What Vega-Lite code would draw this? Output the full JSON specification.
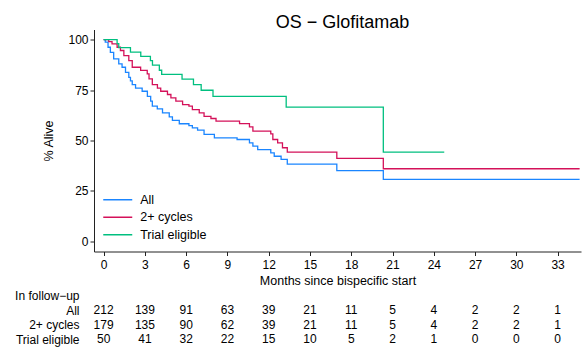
{
  "$schema": "https://vega.github.io/schema/vega-lite/v6.json",
  "padding": {"left": 14, "top": 13.5, "right": 5, "bottom": 0},
  "spacing": 2,
  "config": {
    "view": {"stroke": null},
    "font": "Liberation Sans",
    "axis": {"grid": false, "domainColor": "#222", "tickColor": "#222", "labelColor": "#000", "titleColor": "#000", "labelFont": "Liberation Sans", "titleFont": "Liberation Sans", "titleFontWeight": "normal", "labelFontSize": 12, "titleFontSize": 12.5, "tickSize": 4},
    "legend": {"labelFont": "Liberation Sans"},
    "title": {"font": "Liberation Sans"}
  },
  "vconcat": [
    {
      "width": 487,
      "height": 222,
      "title": {"text": "OS − Glofitamab", "fontSize": 18, "fontWeight": "normal", "color": "#000", "frame": "group", "anchor": "middle", "dx": 5, "offset": -2.5},
      "data": {"values": [
        {"group": "All", "t": 0, "s": 100}, {"group": "All", "t": 0.12, "s": 98.7}, {"group": "All", "t": 0.32, "s": 96.2}, {"group": "All", "t": 0.49, "s": 93.7}, {"group": "All", "t": 0.73, "s": 90.4}, {"group": "All", "t": 1.1, "s": 88}, {"group": "All", "t": 1.34, "s": 86.3}, {"group": "All", "t": 1.59, "s": 83.8}, {"group": "All", "t": 1.83, "s": 81.3}, {"group": "All", "t": 1.95, "s": 79.5}, {"group": "All", "t": 2.08, "s": 77.7}, {"group": "All", "t": 2.32, "s": 76}, {"group": "All", "t": 2.8, "s": 74.4}, {"group": "All", "t": 3.18, "s": 71.9}, {"group": "All", "t": 3.42, "s": 69.5}, {"group": "All", "t": 3.54, "s": 67}, {"group": "All", "t": 3.9, "s": 65.7}, {"group": "All", "t": 4.28, "s": 63.7}, {"group": "All", "t": 4.77, "s": 61.7}, {"group": "All", "t": 5.0, "s": 60}, {"group": "All", "t": 5.5, "s": 58.3}, {"group": "All", "t": 6.2, "s": 57.4}, {"group": "All", "t": 6.45, "s": 56.3}, {"group": "All", "t": 6.83, "s": 55.1}, {"group": "All", "t": 7.3, "s": 53}, {"group": "All", "t": 8.05, "s": 51.3}, {"group": "All", "t": 9.7, "s": 50.5}, {"group": "All", "t": 10.6, "s": 48.8}, {"group": "All", "t": 10.85, "s": 47.2}, {"group": "All", "t": 11.2, "s": 45.5}, {"group": "All", "t": 12.15, "s": 43.9}, {"group": "All", "t": 12.4, "s": 42.2}, {"group": "All", "t": 12.9, "s": 40.6}, {"group": "All", "t": 13.35, "s": 38.3}, {"group": "All", "t": 16.95, "s": 35.1}, {"group": "All", "t": 20.33, "s": 30.7}, {"group": "All", "t": 34.6, "s": 30.7},
        {"group": "2+ cycles", "t": 0, "s": 100}, {"group": "2+ cycles", "t": 0.37, "s": 99}, {"group": "2+ cycles", "t": 0.61, "s": 97.9}, {"group": "2+ cycles", "t": 0.98, "s": 96.2}, {"group": "2+ cycles", "t": 1.22, "s": 94.6}, {"group": "2+ cycles", "t": 1.47, "s": 92.1}, {"group": "2+ cycles", "t": 1.83, "s": 89.6}, {"group": "2+ cycles", "t": 2.08, "s": 86.3}, {"group": "2+ cycles", "t": 2.69, "s": 84.7}, {"group": "2+ cycles", "t": 3.17, "s": 83}, {"group": "2+ cycles", "t": 3.3, "s": 80.5}, {"group": "2+ cycles", "t": 3.54, "s": 77.7}, {"group": "2+ cycles", "t": 3.91, "s": 76}, {"group": "2+ cycles", "t": 4.15, "s": 74.4}, {"group": "2+ cycles", "t": 4.64, "s": 72.8}, {"group": "2+ cycles", "t": 4.89, "s": 71.1}, {"group": "2+ cycles", "t": 5.25, "s": 69.5}, {"group": "2+ cycles", "t": 5.74, "s": 67.8}, {"group": "2+ cycles", "t": 6.2, "s": 67}, {"group": "2+ cycles", "t": 6.45, "s": 65.3}, {"group": "2+ cycles", "t": 6.95, "s": 63.7}, {"group": "2+ cycles", "t": 7.3, "s": 62}, {"group": "2+ cycles", "t": 7.8, "s": 60.9}, {"group": "2+ cycles", "t": 8.17, "s": 59.6}, {"group": "2+ cycles", "t": 9.88, "s": 58.4}, {"group": "2+ cycles", "t": 10.6, "s": 56.8}, {"group": "2+ cycles", "t": 10.85, "s": 54.6}, {"group": "2+ cycles", "t": 12.15, "s": 53.3}, {"group": "2+ cycles", "t": 12.3, "s": 50.5}, {"group": "2+ cycles", "t": 12.65, "s": 48.8}, {"group": "2+ cycles", "t": 13.0, "s": 46.4}, {"group": "2+ cycles", "t": 13.35, "s": 44.2}, {"group": "2+ cycles", "t": 16.95, "s": 41.1}, {"group": "2+ cycles", "t": 20.33, "s": 36}, {"group": "2+ cycles", "t": 34.6, "s": 36},
        {"group": "Trial eligible", "t": 0, "s": 100}, {"group": "Trial eligible", "t": 0.98, "s": 98}, {"group": "Trial eligible", "t": 1.1, "s": 96}, {"group": "Trial eligible", "t": 1.95, "s": 93.8}, {"group": "Trial eligible", "t": 2.7, "s": 91.7}, {"group": "Trial eligible", "t": 3.4, "s": 89.6}, {"group": "Trial eligible", "t": 3.55, "s": 87.3}, {"group": "Trial eligible", "t": 4.05, "s": 84.8}, {"group": "Trial eligible", "t": 4.22, "s": 82.8}, {"group": "Trial eligible", "t": 5.7, "s": 80.4}, {"group": "Trial eligible", "t": 6.53, "s": 77.7}, {"group": "Trial eligible", "t": 7.09, "s": 74.9}, {"group": "Trial eligible", "t": 7.95, "s": 71.9}, {"group": "Trial eligible", "t": 13.27, "s": 66.5}, {"group": "Trial eligible", "t": 20.33, "s": 44.2}, {"group": "Trial eligible", "t": 24.76, "s": 44.2}
      ]},
      "mark": {"type": "line", "interpolate": "step-after", "strokeWidth": 1.3},
      "encoding": {
        "x": {"field": "t", "type": "quantitative", "scale": {"domain": [-0.7, 34.7], "nice": false, "zero": false}, "axis": {"values": [0, 3, 6, 9, 12, 15, 18, 21, 24, 27, 30, 33], "title": "Months since bispecific start", "labelPadding": 3.5, "titlePadding": 4, "labelFlush": false}},
        "y": {"field": "s", "type": "quantitative", "scale": {"domain": [-5, 105], "nice": false, "zero": false}, "axis": {"values": [0, 25, 50, 75, 100], "title": "% Alive", "labelPadding": 2, "titlePadding": 12}},
        "color": {"field": "group", "type": "nominal", "scale": {"domain": ["All", "2+ cycles", "Trial eligible"], "range": ["#1a85ff", "#d41159", "#00bf7f"]}, "legend": {"orient": "none", "legendX": 17.5, "legendY": 164, "title": null, "symbolType": "M-2.9,0H2.9", "symbolSize": 100, "symbolStrokeWidth": 1.5, "labelFontSize": 12.5, "labelOffset": 16.2, "rowPadding": 4.5, "padding": 0, "labelColor": "#000"}}
      }
    },
    {
      "width": 487,
      "height": 58,
      "data": {"values": [
        {"row": "All", "t": 0, "n": 212}, {"row": "All", "t": 3, "n": 139}, {"row": "All", "t": 6, "n": 91}, {"row": "All", "t": 9, "n": 63}, {"row": "All", "t": 12, "n": 39}, {"row": "All", "t": 15, "n": 21}, {"row": "All", "t": 18, "n": 11}, {"row": "All", "t": 21, "n": 5}, {"row": "All", "t": 24, "n": 4}, {"row": "All", "t": 27, "n": 2}, {"row": "All", "t": 30, "n": 2}, {"row": "All", "t": 33, "n": 1},
        {"row": "2+ cycles", "t": 0, "n": 179}, {"row": "2+ cycles", "t": 3, "n": 135}, {"row": "2+ cycles", "t": 6, "n": 90}, {"row": "2+ cycles", "t": 9, "n": 62}, {"row": "2+ cycles", "t": 12, "n": 39}, {"row": "2+ cycles", "t": 15, "n": 21}, {"row": "2+ cycles", "t": 18, "n": 11}, {"row": "2+ cycles", "t": 21, "n": 5}, {"row": "2+ cycles", "t": 24, "n": 4}, {"row": "2+ cycles", "t": 27, "n": 2}, {"row": "2+ cycles", "t": 30, "n": 2}, {"row": "2+ cycles", "t": 33, "n": 1},
        {"row": "Trial eligible", "t": 0, "n": 50}, {"row": "Trial eligible", "t": 3, "n": 41}, {"row": "Trial eligible", "t": 6, "n": 32}, {"row": "Trial eligible", "t": 9, "n": 22}, {"row": "Trial eligible", "t": 12, "n": 15}, {"row": "Trial eligible", "t": 15, "n": 10}, {"row": "Trial eligible", "t": 18, "n": 5}, {"row": "Trial eligible", "t": 21, "n": 2}, {"row": "Trial eligible", "t": 24, "n": 1}, {"row": "Trial eligible", "t": 27, "n": 0}, {"row": "Trial eligible", "t": 30, "n": 0}, {"row": "Trial eligible", "t": 33, "n": 0}
      ]},
      "mark": {"type": "text", "fontSize": 12, "color": "#000", "font": "Liberation Sans"},
      "encoding": {
        "x": {"field": "t", "type": "quantitative", "scale": {"domain": [-0.7, 34.7], "nice": false, "zero": false}, "axis": null},
        "y": {"field": "row", "type": "nominal", "scale": {"type": "point", "padding": 0.5, "domain": ["In follow−up", "All", "2+ cycles", "Trial eligible"]}, "axis": {"title": null, "domain": false, "ticks": false, "labelFontSize": 12, "labelPadding": 15, "labelColor": "#000"}},
        "text": {"field": "n", "type": "quantitative"}
      }
    }
  ]
}
